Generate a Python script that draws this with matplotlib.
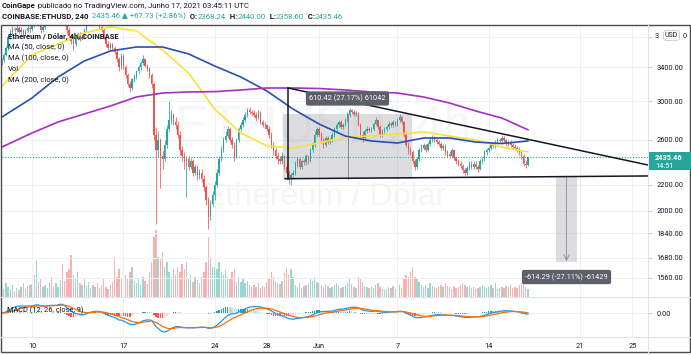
import numpy as np
import pandas as pd
import matplotlib
matplotlib.use("Agg")
import matplotlib.pyplot as plt
from matplotlib.patches import Rectangle
from matplotlib.ticker import NullLocator

plt.rcParams['font.family'] = ['Roboto', 'DejaVu Sans']

# ---------------- data ----------------
first_candle = "2021-05-07 16:00"
first_open = 3460.0

close_px = [
    3490, 3560,
    3650, 3800, 3880, 3920, 3900, 3930,
    3870, 3900, 3850, 3890, 3930, 3910,
    3960, 4050, 4150, 4000, 3900, 3950,
    4000, 4100, 4180, 4150, 4120, 4170,
    4250, 4350, 4200, 4000, 3900, 3820,
    3750, 3700, 3800, 3850, 3780, 3800,
    3900, 4000, 4050, 4100, 4050, 4080,
    4000, 3950, 3900, 3800, 3700, 3650,
    3700, 3650, 3600, 3500, 3400, 3550,
    3400, 3300, 3200, 3150, 3250, 3280,
    3350, 3400, 3450, 3500, 3420, 3380,
    3300, 3200, 2650, 2500, 2600, 2450,
    2420, 2550, 2700, 2800, 2850, 2780,
    2750, 2650, 2500, 2450, 2400, 2420,
    2350, 2400, 2300, 2350, 2280, 2300,
    2250, 2180, 2080, 1950, 2050, 2120,
    2200, 2300, 2420, 2500, 2600, 2640,
    2700, 2600, 2550, 2450, 2600, 2700,
    2750, 2800, 2850, 2900, 2880, 2870,
    2850, 2820, 2880, 2780, 2750, 2740,
    2700, 2650, 2550, 2500, 2450, 2420,
    2400, 2450, 2350, 2300, 2250, 2280,
    2300, 2380, 2420, 2350, 2400, 2390,
    2450, 2400, 2500, 2550, 2650, 2700,
    2650, 2600, 2550, 2620, 2580, 2600,
    2650, 2700, 2750, 2780, 2720, 2750,
    2800, 2850, 2900, 2880, 2860, 2870,
    2750, 2650, 2620, 2680, 2700, 2690,
    2700, 2760, 2800, 2720, 2650, 2680,
    2700, 2720, 2760, 2740, 2780, 2750,
    2800, 2830, 2780, 2650, 2550, 2500,
    2480, 2400, 2350, 2420, 2500, 2520,
    2550, 2500, 2560, 2600, 2620, 2600,
    2580, 2560, 2520, 2540, 2480, 2470,
    2450, 2500, 2430, 2400, 2380, 2360,
    2320, 2300, 2340, 2380, 2350, 2380,
    2350, 2330, 2400, 2420, 2480, 2500,
    2520, 2560, 2540, 2580, 2600, 2590,
    2620, 2600, 2560, 2580, 2550, 2530,
    2520, 2500, 2480, 2450, 2380, 2368.24,
    2435.46,
]

high_px = [
    3520, 3590,
    3680, 3830, 3910, 3960, 3950, 3970,
    3960, 3940, 3920, 3910, 3970, 3960,
    3990, 4080, 4200, 4180, 4030, 3980,
    4030, 4130, 4210, 4200, 4180, 4200,
    4280, 4380, 4360, 4230, 4050, 3950,
    3850, 3790, 3830, 3880, 3870, 3830,
    3930, 4030, 4080, 4140, 4120, 4110,
    4100, 4030, 3980, 3930, 3820, 3740,
    3730, 3720, 3680, 3620, 3530, 3580,
    3570, 3430, 3330, 3230, 3270, 3310,
    3370, 3430, 3480, 3560, 3520, 3440,
    3400, 3330, 3220, 2720, 2680, 2620,
    2500, 2600, 2750, 3000, 2900, 2870,
    2830, 2790, 2680, 2540, 2480, 2450,
    2450, 2430, 2420, 2380, 2370, 2330,
    2330, 2280, 2200, 2100, 2080, 2150,
    2230, 2330, 2450, 2540, 2630, 2680,
    2730, 2720, 2630, 2580, 2620, 2720,
    2780, 2830, 2880, 2920, 2930, 2900,
    2900, 2880, 2900, 2890, 2800, 2780,
    2760, 2730, 2670, 2580, 2520, 2480,
    2450, 2480, 2460, 2380, 2320, 2300,
    2320, 2400, 2440, 2430, 2420, 2420,
    2470, 2460, 2520, 2580, 2680, 2720,
    2720, 2670, 2620, 2640, 2640, 2620,
    2670, 2720, 2770, 2800, 2800, 2770,
    2820, 2880, 2920, 2910, 2900, 2890,
    2880, 2770, 2680, 2700, 2730, 2720,
    2720, 2780, 2830, 2810, 2740, 2700,
    2720, 2740, 2790, 2780, 2800, 2790,
    2820, 2860, 2840, 2790, 2670, 2580,
    2530, 2500, 2420, 2440, 2520, 2560,
    2570, 2560, 2580, 2620, 2650, 2640,
    2620, 2600, 2580, 2560, 2560, 2500,
    2490, 2520, 2510, 2450, 2420, 2400,
    2380, 2340, 2360, 2400, 2400, 2400,
    2400, 2370, 2420, 2440, 2500, 2520,
    2540, 2580, 2580, 2600, 2620, 2620,
    2650, 2640, 2610, 2600, 2600, 2570,
    2560, 2540, 2530, 2500, 2470, 2400,
    2440.00,
]

low_px = [
    3430, 3470,
    3540, 3620, 3770, 3850, 3870, 3880,
    3840, 3850, 3800, 3820, 3870, 3880,
    3890, 3940, 4020, 3980, 3860, 3880,
    3920, 3980, 4080, 4120, 4090, 4100,
    4150, 4230, 4180, 3980, 3850, 3780,
    3700, 3620, 3680, 3780, 3750, 3760,
    3780, 3880, 3970, 4020, 4020, 4030,
    3980, 3920, 3870, 3770, 3670, 3620,
    3620, 3620, 3570, 3470, 3350, 3380,
    3380, 3270, 3170, 3100, 3120, 3220,
    3250, 3320, 3370, 3430, 3400, 3350,
    3270, 3150, 2600, 1900, 2450, 2170,
    2330, 2400, 2520, 2680, 2760, 2740,
    2700, 2620, 2460, 2400, 2330, 2100,
    2320, 2330, 2270, 2280, 2240, 2250,
    2220, 2150, 2040, 1870, 1930, 2030,
    2080, 2180, 2280, 2400, 2480, 2580,
    2620, 2580, 2520, 2400, 2430, 2580,
    2680, 2720, 2780, 2830, 2860, 2840,
    2830, 2790, 2810, 2760, 2720, 2700,
    2680, 2620, 2520, 2460, 2420, 2380,
    2380, 2380, 2320, 2270, 2210, 2200,
    2250, 2280, 2350, 2330, 2330, 2370,
    2370, 2380, 2390, 2480, 2530, 2630,
    2630, 2570, 2520, 2530, 2560, 2560,
    2580, 2630, 2680, 2720, 2700, 2700,
    2730, 2780, 2830, 2860, 2840, 2840,
    2730, 2620, 2580, 2600, 2660, 2670,
    2670, 2680, 2740, 2700, 2630, 2630,
    2660, 2680, 2700, 2720, 2720, 2730,
    2730, 2780, 2760, 2630, 2530, 2470,
    2460, 2380, 2320, 2330, 2400, 2480,
    2500, 2480, 2490, 2540, 2580, 2580,
    2560, 2540, 2500, 2500, 2460, 2440,
    2430, 2430, 2410, 2380, 2360, 2340,
    2300, 2280, 2280, 2320, 2330, 2330,
    2330, 2310, 2320, 2380, 2400, 2460,
    2480, 2500, 2520, 2520, 2560, 2570,
    2570, 2580, 2540, 2540, 2530, 2510,
    2500, 2480, 2460, 2420, 2360, 2340,
    2358.60,
]

volume_k = [
    12, 8,
    14, 10, 8, 12, 6, 9,
    7, 10, 14, 8, 11, 12,
    13, 22, 37, 15, 18, 10,
    12, 9, 15, 20, 11, 14,
    10, 17, 33, 16, 25, 28,
    42, 22, 18, 25, 14, 12,
    18, 11, 15, 9, 12, 10,
    14, 9, 12, 18, 10, 8,
    12, 15, 40, 20, 28, 18,
    28, 22, 18, 25, 30, 16,
    14, 18, 12, 20, 16, 13,
    25, 35, 60, 67, 40, 38,
    45, 30, 35, 25, 20, 28,
    22, 30, 25, 33, 28, 35,
    18, 22, 15, 20, 17, 14,
    20, 25, 35, 60, 40, 30,
    30, 28, 35, 25, 22, 27,
    20, 18, 25, 28, 15, 20,
    15, 18, 14, 16, 12, 10,
    12, 10, 14, 9, 11, 10,
    15, 18, 25, 20, 16, 14,
    13, 16, 24, 30, 22, 28,
    20, 12, 10, 14, 9, 11,
    12, 14, 18, 16, 20, 15,
    14, 12, 10, 13, 11, 9,
    10, 12, 14, 11, 9, 10,
    12, 15, 18, 13, 10, 9,
    20, 18, 14, 11, 10, 9,
    10, 9, 12, 14, 10, 8,
    7, 8, 10, 9, 11, 8,
    10, 12, 9, 18, 22, 20,
    25, 30, 20, 18, 15, 12,
    10, 12, 9, 14, 11, 10,
    9, 10, 12, 10, 14, 11,
    10, 8, 11, 9, 10, 12,
    14, 12, 10, 11, 9, 10,
    8, 9, 10, 12, 11, 9,
    10, 12, 9, 14, 8, 9,
    10, 9, 11, 10, 12, 9,
    10, 9, 12, 14, 13, 10,
    8,
]

# moving averages (days after 2021-05-10)
ma_days = [-2.3, 0, 2, 4, 6, 8, 10, 12, 14, 16, 18, 20, 22, 24, 26, 28, 30, 32, 34, 36, 38]
ma50 = [3171, 3557, 3705, 3859, 3946, 3888, 3624, 3328, 2912, 2665, 2540,
        2521, 2568, 2626, 2635, 2655, 2675, 2635, 2596, 2530, 2484]
ma100 = [2828, 3034, 3279, 3479, 3610, 3664, 3664, 3571, 3415, 3279, 3113,
         2912, 2755, 2635, 2587, 2568, 2616, 2616, 2577, 2563, 2587]
ma200 = [2530, 2665, 2776, 2859, 2945, 3045, 3090, 3102, 3106, 3125, 3148,
         3148, 3142, 3125, 3102, 3090, 3045, 2978, 2891, 2817, 2697]

price_ticks = [3800, 3400, 3000, 2600, 2200, 2000, 1840, 1680, 1560]
date_ticks = ["2021-05-10", "2021-05-17", "2021-05-24", "2021-05-28", "2021-06-01",
              "2021-06-07", "2021-06-14", "2021-06-21", "2021-06-25"]
date_labels = ["10", "17", "24", "28", "Jun", "7", "14", "21", "25"]

last_price = 2435.46
# drawing annotations (days after 2021-05-10, prices)
tri_top = (19.62, 3148)
tri_top_end = (47.2, 2367)
tri_base = (19.39, 2250)
tri_base_end = (47.2, 2273)
range1 = (19.23, 29.12, 2246.6, 2857.0)
range2 = (40.15, 41.76, 1651.7, 2266.0)

# ---------------- layout ----------------
W, H = 691, 355
fig = plt.figure(figsize=(W / 100, H / 100), dpi=100)
fig.patch.set_facecolor("white")


def fr(x0, y0, x1, y1):
    return [x0 / W, 1 - y1 / H, (x1 - x0) / W, (y1 - y0) / H]


UP, DN = "#26a69a", "#ef5350"
TXT = "#131722"
GRID = "#eef0f4"

axv = fig.add_axes(fr(2, 25, 648, 297), label="vol", zorder=-1)
ax = fig.add_axes(fr(2, 25, 648, 297), label="price", zorder=0, sharex=axv)
axm = fig.add_axes(fr(2, 297, 648, 337), label="macd", sharex=axv)
ovl = fig.add_axes([0, 0, 1, 1], label="ovl", zorder=10)
ovl.set_xlim(0, W)
ovl.set_ylim(H, 0)
ovl.axis("off")
ax.patch.set_visible(False)

times = pd.date_range(first_candle, periods=len(close_px), freq="4h")
ref = pd.Timestamp("2021-05-10")
xd = ((times - ref) / pd.Timedelta("1D")).to_numpy()
c = np.array(close_px, float)
o = np.r_[first_open, c[:-1]]
h = np.maximum(np.array(high_px, float), np.maximum(o, c))
l = np.minimum(np.array(low_px, float), np.minimum(o, c))
up = c >= o
cols = np.where(up, UP, DN)
bw = 0.105

# volume
axv.bar(xd, volume_k, width=bw, color=cols, alpha=0.45, lw=0)
axv.set_ylim(0, 272)
axv.set_axis_off()

# price pane
ax.set_yscale("log")
ax.set_ylim(1452, 3975)
ax.set_xlim(-2.30, 47.2)
ax.vlines(xd, l, h, colors=cols, lw=0.55, zorder=3)
ax.bar(xd, np.maximum(np.abs(c - o), 4), bottom=np.minimum(o, c), width=bw,
       color=cols, lw=0, zorder=4)
ax.plot(ma_days, ma50, color="#f9e13c", lw=1.2, zorder=5)
ax.plot(ma_days, ma100, color="#2750b0", lw=1.2, zorder=5)
ax.plot(ma_days, ma200, color="#a52fc4", lw=1.2, zorder=5)
ax.axhline(last_price, color=UP, lw=0.8, ls=(0, (1, 1.5)), zorder=2)

# measurement rectangles
x0, x1, p0, p1 = range1
ax.add_patch(Rectangle((x0, p0), x1 - x0, p1 - p0, fc="#787b86", alpha=0.25, ec="none", zorder=2))
ax.plot([(x0 + x1) / 2] * 2, [p0, p1], color="#787b86", lw=0.6, zorder=2)
x0, x1, p0, p1 = range2
ax.add_patch(Rectangle((x0, p0), x1 - x0, p1 - p0, fc="#787b86", alpha=0.25, ec="none", zorder=2))
ax.annotate("", xy=((x0 + x1) / 2, p0 * 1.004), xytext=((x0 + x1) / 2, p1),
            arrowprops=dict(arrowstyle="->", color="#8a8d96", lw=0.6, shrinkA=0, shrinkB=0),
            zorder=2)

# triangle
ax.plot([tri_top[0], tri_top_end[0]], [tri_top[1], tri_top_end[1]], color=TXT, lw=1.1, zorder=6)
ax.plot([tri_base[0], tri_base_end[0]], [tri_base[1], tri_base_end[1]], color=TXT, lw=1.1, zorder=6)
ax.plot([tri_top[0], tri_top[0]], [tri_top[1], tri_base[1]], color=TXT, lw=1.1, zorder=6)

# axis styling
date_x = [(pd.Timestamp(d) - ref) / pd.Timedelta("1D") for d in date_ticks]
for a in (ax, axm):
    for s in a.spines.values():
        s.set_visible(False)
    a.set_xticks(date_x)
    a.grid(True, which="major", color=GRID, lw=0.7)
    a.set_axisbelow(True)
ax.yaxis.tick_right()
ax.set_yticks(price_ticks)
# the top label (3800.00) is mostly hidden behind the USD badge, drawn separately
ax.set_yticklabels(["" if p == price_ticks[0] else f"{p:.2f}" for p in price_ticks])
ax.yaxis.set_minor_locator(NullLocator())
ax.tick_params(axis="y", labelsize=5.3, labelcolor=TXT, length=3, width=0.5,
               color="#b2b5be", pad=3)
ax.tick_params(axis="x", labelbottom=False, length=0)

# MACD
s = pd.Series(c)
macd = s.ewm(span=12, adjust=False).mean() - s.ewm(span=26, adjust=False).mean()
sig = macd.ewm(span=9, adjust=False).mean()
hist = (macd - sig).to_numpy()
prev = np.r_[hist[0], hist[:-1]]
hcols = np.where(hist >= 0, np.where(hist >= prev, "#26a69a", "#b2dfdb"),
                 np.where(hist < prev, "#ff5252", "#ffcdd2"))
axm.bar(xd, hist, width=bw, color=hcols, lw=0)
axm.plot(xd, macd.to_numpy(), color="#2196f3", lw=0.9)
axm.plot(xd, sig.to_numpy(), color="#ff6d00", lw=0.9)
u = -macd.min() / 19.0
axm.set_ylim(-24 * u, 16 * u)
axm.yaxis.tick_right()
axm.set_yticks([0])
axm.set_yticklabels(["0.00"])
axm.tick_params(axis="y", labelsize=5.3, labelcolor=TXT, length=3, width=0.5,
                color="#b2b5be", pad=3)
axm.set_xticklabels(date_labels)
axm.tick_params(axis="x", labelsize=5.3, labelcolor=TXT, length=0, pad=4)

# watermark (behind candles)
ax.text(323, 128, "ETHUSD, 4h", transform=ovl.transData, ha="center", va="center",
        fontsize=37, color=TXT, alpha=0.03, family=["Liberation Sans"], zorder=0.5)
ax.text(325, 197, "Ethereum / Dólar", transform=ovl.transData, ha="center", va="center",
        fontsize=23, color=TXT, alpha=0.04, family=["Liberation Sans"], zorder=0.5)

# frame & separators
ovl.plot([648, 648], [25, 352], color="#e0e3eb", lw=0.8)
ovl.plot([1, 690], [297, 297], color="#e0e3eb", lw=0.8)
ovl.plot([1, 690], [337, 337], color="#e0e3eb", lw=0.8)
ovl.add_patch(Rectangle((1, 25), 689, 327, fill=False, ec="#4a4a4a", lw=1.0))

# header
FS = 5.6


def chain(prev, txt, color=TXT, weight="normal"):
    return ovl.annotate(txt, xy=(1, 0), xycoords=prev, va="bottom", ha="left",
                        fontsize=FS, color=color, weight=weight)


t = ovl.text(2, 9, "CoinGape", fontsize=FS, weight="bold", color=TXT, va="bottom", ha="left")
chain(t, " publicado no TradingView.com, Junho 17, 2021 03:45:11 UTC")
t = ovl.text(2, 20, "COINBASE:ETHUSD, 240", fontsize=FS, weight="bold", color=TXT,
             va="bottom", ha="left")
for txt, col in [("  2435.46 ▲ +67.73 (+2.86%)", UP), ("  O:", TXT), ("2368.24", UP),
                 ("  H:", TXT), ("2440.00", UP), ("  L:", TXT), ("2358.60", UP),
                 ("  C:", TXT), ("2435.46", UP)]:
    t = chain(t, txt, col, "bold" if col == TXT else "normal")

# legend texts
ovl.text(8, 36, "Ethereum / Dólar, 4h, COINBASE", fontsize=5.5, weight="bold", color=TXT, va="center")
for yy, txt in [(47, "MA (50, close, 0)"), (58, "MA (100, close, 0)"), (69, "Vol"),
                (80.5, "MA (200, close, 0)")]:
    ovl.text(8, yy, txt, fontsize=5.5, color=TXT, va="center")
ovl.text(7, 310, "MACD (12, 26, close, 9)", fontsize=5.3, color=TXT, va="center")

# measurement labels
box = dict(boxstyle="round,pad=0.45,rounding_size=0.3", fc="#5d606b", ec="none")
ovl.text(347.5, 98.5, "610.42 (27.17%) 61042", ha="center", va="center", color="white",
         fontsize=5.3, bbox=box)
ovl.text(566.5, 277, "-614.29 (-27.11%) -61429", ha="center", va="center", color="white",
         fontsize=5.3, bbox=box)

# last price tag & USD badge (with the visible ends of the 3800.00 label)
ovl.add_patch(Rectangle((649, 152), 42, 18, fc=UP, ec="none"))
ovl.text(655, 157.5, "2435.46", fontsize=5.3, color="white", weight="bold", va="center")
ovl.text(655, 166, "14:51", fontsize=5.3, color="white", va="center")
ovl.text(655, 36.5, "3", fontsize=5.3, color=TXT, va="center", ha="left")
ovl.text(687, 36.5, "0", fontsize=5.3, color=TXT, va="center", ha="right")
ovl.text(671.5, 35.5, "USD", ha="center", va="center", fontsize=5, color=TXT,
         bbox=dict(boxstyle="round,pad=0.2,rounding_size=0.4", fc="white", ec="#c8cad0", lw=0.6))

fig.savefig("out.png", dpi=100, facecolor="white")
